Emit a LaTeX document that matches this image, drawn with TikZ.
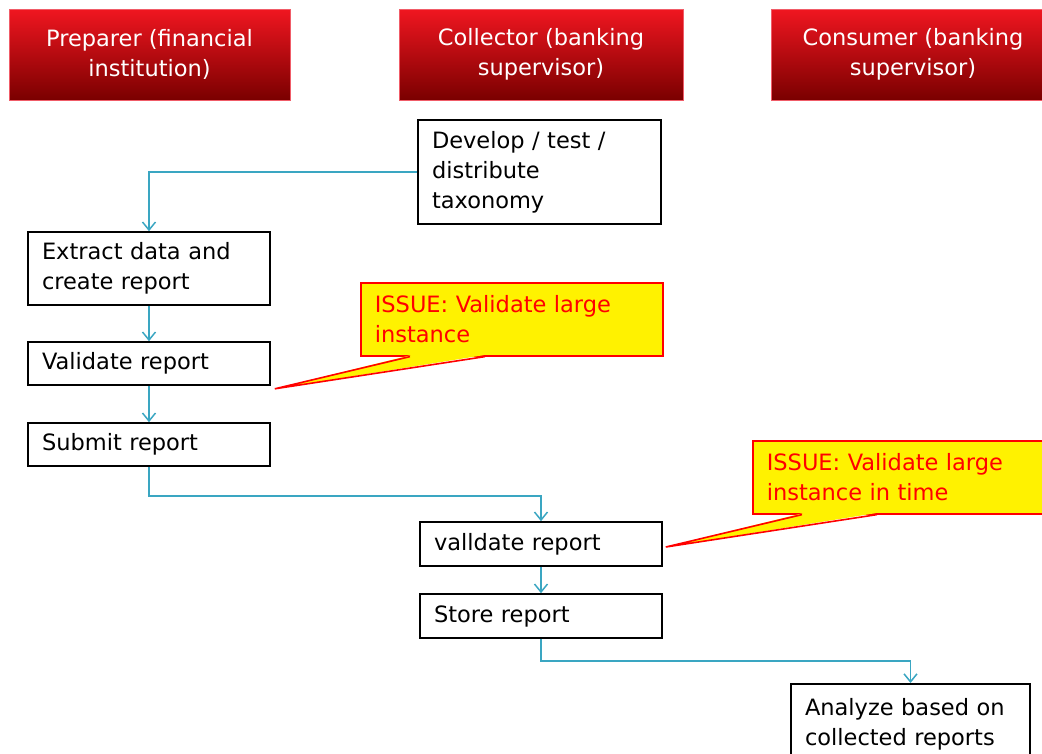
\documentclass[tikz,border=0pt]{standalone}
\usepackage{fontspec}
\setmainfont{DejaVu Sans}
\usetikzlibrary{calc,arrows.meta}

\definecolor{flowcyan}{RGB}{58,166,194}
\definecolor{headtop}{RGB}{240,22,32}
\definecolor{headbot}{RGB}{122,0,0}
\definecolor{headline}{RGB}{240,92,104}

\tikzset{
  stepbox/.style={draw, line width=1.6pt, align=left, inner xsep=14pt, inner ysep=0pt,
    font=\fontsize{22.5}{30}\selectfont},
  headbox/.style={draw=headline, line width=1pt, top color=headtop, bottom color=headbot,
    text=white, align=center, minimum height=91pt, inner sep=0pt,
    font=\fontsize{22.5}{30}\selectfont},
  issuebox/.style={fill=yellow, draw=red, line width=1.6pt, text=red, align=left,
    inner xsep=14pt, inner ysep=0pt, anchor=north west, text width=274pt, minimum height=73pt,
    font=\fontsize{22.5}{30}\selectfont},
  flow/.style={draw=flowcyan, line width=1.5pt, -{Straight Barb[length=8pt,width=13pt]}}
}

\begin{document}
\begin{tikzpicture}[x=1pt, y=-1pt]
    \useasboundingbox (0,0) rectangle (1042,753);
    \clip (0,0) rectangle (1042,753);

    % Lane headers
    \node[headbox, minimum width=281pt] (prep) at (149.5,54.5) {Preparer (financial\\institution)};
    \node[headbox, minimum width=284pt] (coll) at (541,54.5) {Collector (banking\\supervisor)};
    \node[headbox, minimum width=284pt] (cons) at (913,54.5) {Consumer (banking\\supervisor)};

    % Collector: taxonomy
    \node[stepbox, text width=215pt, minimum height=104pt] (dev) at (539.5,172) {Develop / test /\\distribute\\taxonomy};

    % Preparer steps
    \node[stepbox, text width=214pt, minimum height=73pt] (extr) at (149,268.5) {Extract data and\\create report};
    \node[stepbox, text width=214pt, minimum height=43pt] (valA) at (149,363.5) {Validate report};
    \node[stepbox, text width=214pt, minimum height=43pt] (subm) at (149,444.5) {Submit report};

    % Collector steps
    \node[stepbox, text width=214pt, minimum height=44pt] (valB) at (541,544) {valldate report};
    \node[stepbox, text width=214pt, minimum height=44pt] (stor) at (541,616) {Store report};

    % Consumer step
    \node[stepbox, text width=211pt, minimum height=80pt, anchor=north] (anlz) at (910.5,683) {Analyze based on\\collected reports};

    % Flow
    \draw[flow] (dev.west) -| (extr.north);
    \draw[flow] (extr.south) -- (valA.north);
    \draw[flow] (valA.south) -- (subm.north);
    \draw[flow] (subm.south) -- ++(0,29) -| (valB.north);
    \draw[flow] (valB.south) -- (stor.north);
    \draw[flow] (stor.south) -- ++(0,22) -| (anlz.north);

    % Issue 1
    \node[issuebox] (issA) at (360,282) {ISSUE: Validate large\\instance};
    \coordinate (tipA) at ($(valA.south east)+(4,3)$);
    \fill[yellow] ($(issA.south west)+(51,-1.5)$) -- (tipA) -- ($(issA.south west)+(124,-1.5)$) -- cycle;
    \draw[red, line width=1.6pt] ($(issA.south west)+(50,0)$) -- (tipA) -- ($(issA.south west)+(125,0)$);

    % Issue 2
    \node[issuebox] (issB) at (752,440) {ISSUE: Validate large\\instance in time};
    \coordinate (tipB) at ($(valB.east)+(3,3)$);
    \fill[yellow] ($(issB.south west)+(51,-1.5)$) -- (tipB) -- ($(issB.south west)+(124,-1.5)$) -- cycle;
    \draw[red, line width=1.6pt] ($(issB.south west)+(50,0)$) -- (tipB) -- ($(issB.south west)+(125,0)$);
\end{tikzpicture}
\end{document}
